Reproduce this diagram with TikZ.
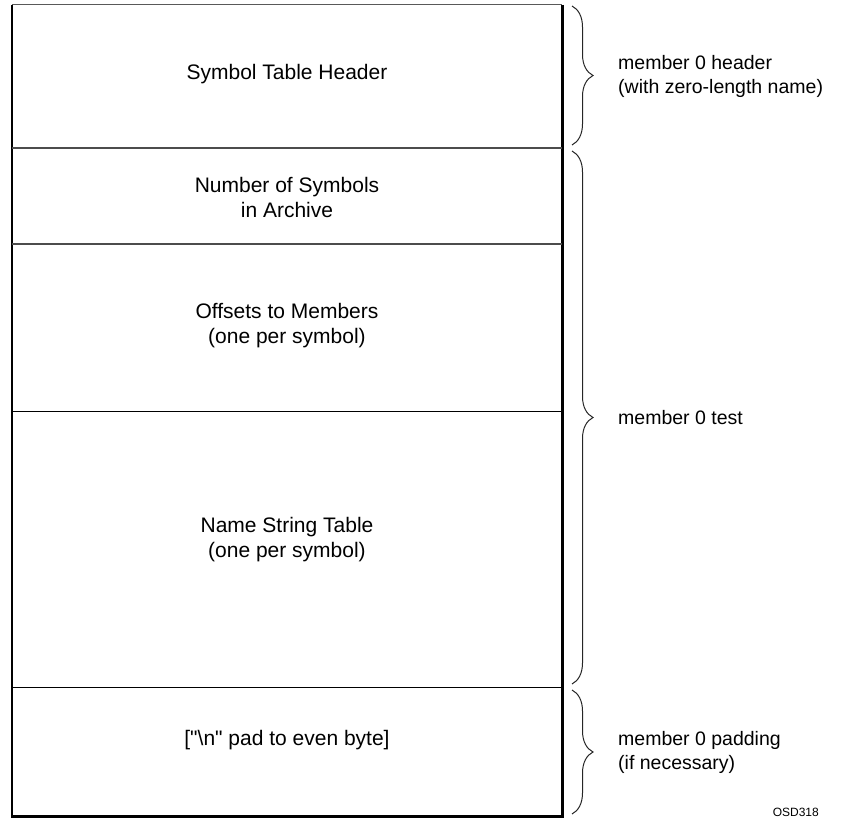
\documentclass[tikz,border=0pt]{standalone}
\usepackage{fontspec}
\setmainfont{Liberation Sans}
\usetikzlibrary{positioning,decorations.pathreplacing}

\tikzset{
  cell/.style={font=\fontsize{21}{25}\selectfont, align=center, inner sep=0pt},
  memo/.style={font=\fontsize{19.5}{24}\selectfont, align=left, anchor=west, inner sep=0pt},
  span/.style={decorate, decoration={brace, amplitude=21pt}, line width=1pt, black!85},
  rule/.style={line width=1.2pt, gray!60!black},
}

\begin{document}
\begin{tikzpicture}[x=1pt, y=-1pt]
	\useasboundingbox (0,0) rectangle (849,821);
	\def\xL{12} % left edge of the table
	\def\xR{562} % right edge of the table
	\def\yT{5}
	\def\yB{816}

	% outline
	\draw[line width=1pt, gray!70!black] (\xL,\yT) -- (\xR,\yT);
	\draw[line width=1.5pt] (\xL,\yT) -- (\xL,\yB);
	\draw[line width=3pt] (\xR,\yT) -- (\xR,\yB+1.5);
	\draw[line width=3pt] (\xL-0.75,\yB) -- (\xR,\yB);

	% dividers
	\foreach \y in {148,244} \draw[rule] (\xL,\y) -- (\xR,\y);
	\foreach \y in {411,687} \draw[line width=1pt] (\xL,\y) -- (\xR,\y);

	\node[cell] (hdr) at (287,74) {Symbol Table Header};
	\node[cell] (num) at (287,197) {Number of Symbols\\in Archive};
	\node[cell] (off) at (287,326) {Offsets to Members\\(one per symbol)};
	\node[cell] (str) at (287,540) {Name String Table\\(one per symbol)};
	\node[cell] (pad) at (287,740) {[\textquotedbl\textbackslash n\textquotedbl{} pad to even byte]};

	% braces
	\draw[span] (572,6) -- (572,145);
	\draw[span] (572,151) -- (572,684);
	\draw[span] (572,690) -- (572,814);

	\node[memo] (m0hdr) at (618,76) {member 0 header\\(with zero-length name)};
	\node[memo] (m0tst) at (618,418) {member 0 test};
	\node[memo] (m0pad) at (618,752) {member 0 padding\\(if necessary)};

	\node[font=\fontsize{12}{14}\selectfont, anchor=east, inner sep=0pt] (osd) at (819,812) {OSD318};
\end{tikzpicture}
\end{document}
